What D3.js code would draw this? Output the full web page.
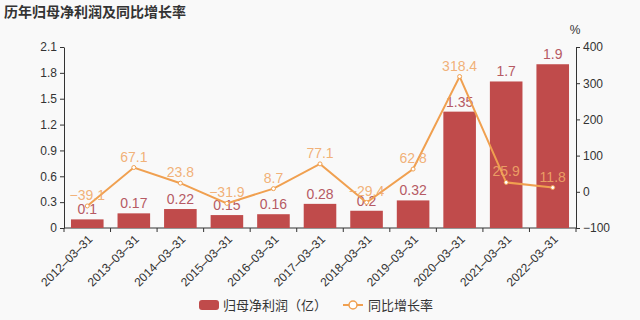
<!DOCTYPE html>
<html>
<head>
<meta charset="utf-8">
<script src="https://cdn.jsdelivr.net/npm/d3@7"></script>
<style>
body { margin: 0; background: #f9f9f9; }
svg { display: block; font-family: "Liberation Sans", "Noto Sans CJK SC", sans-serif; }
</style>
</head>
<body>
<div id="chart"></div>
<script>
let categories = ['2012-03-31','2013-03-31','2014-03-31','2015-03-31','2016-03-31','2017-03-31','2018-03-31','2019-03-31','2020-03-31','2021-03-31','2022-03-31']
let profit = [0.1, 0.17, 0.22, 0.15, 0.16, 0.28, 0.2, 0.32, 1.35, 1.7, 1.9]
let growth = [-39.1, 67.1, 23.8, -31.9, 8.7, 77.1, -29.4, 62.8, 318.4, 25.9, 11.8]
let leftTicks = [0, 0.3, 0.6, 0.9, 1.2, 1.5, 1.8, 2.1]
let rightTicks = [-100, 0, 100, 200, 300, 400]

let width = 640
let height = 320
let plotLeft = 64, plotRight = 576, plotTop = 47, plotBottom = 228

let barColor = '#c04b4b'
let lineColor = '#f0a050'
let cjk = '"Noto Sans CJK SC", sans-serif'

const svg = d3.select('#chart')
	.append('svg')
	.attr('width', width)
	.attr('height', height)

svg.append('rect').attr('width', width).attr('height', height).attr('fill', '#f9f9f9')

svg.append('text')
	.attr('x', 4)
	.attr('y', 17)
	.attr('font-size', 14)
	.attr('font-weight', 'bold')
	.attr('font-family', cjk)
	.attr('fill', '#333')
	.text('历年归母净利润及同比增长率')

let xScale = d3.scaleBand()
	.domain(categories)
	.range([plotLeft, plotRight])
	.paddingInner(0.3)
	.paddingOuter(0.15)

let xBand = d3.scaleBand().domain(categories).range([plotLeft, plotRight])

let yLeft = d3.scaleLinear().domain([0, 2.1]).range([plotBottom, plotTop])
let yRight = d3.scaleLinear().domain([-100, 400]).range([plotBottom, plotTop])

// x axis with boundary ticks
let xG = svg.append('g').attr('transform', `translate(0,${plotBottom})`)
xG.append('line').attr('x1', plotLeft).attr('x2', plotRight).attr('stroke', '#333')
xG.selectAll('.tk')
	.data(d3.range(categories.length + 1))
	.enter()
	.append('line')
	.attr('x1', i => plotLeft + i * xBand.step())
	.attr('x2', i => plotLeft + i * xBand.step())
	.attr('y1', 0)
	.attr('y2', 4)
	.attr('stroke', '#333')
xG.selectAll('.lbl')
	.data(categories)
	.enter()
	.append('text')
	.attr('transform', d => `translate(${xBand(d) + xBand.bandwidth() / 2 + 3},${9}) rotate(-45)`)
	.attr('text-anchor', 'end')
	.attr('dy', '0.35em')
	.attr('font-size', 12)
	.attr('fill', '#333')
	.text(d => d.replace(/-/g, '–'))

let yG = svg.append('g')
	.attr('transform', `translate(${plotLeft},0)`)
	.call(d3.axisLeft(yLeft).tickValues(leftTicks).tickSize(4).tickSizeOuter(0).tickFormat(d => d === 0 ? '0' : d3.format('.1f')(d)))
yG.selectAll('path, line').attr('stroke', '#333')
yG.selectAll('text').attr('fill', '#333').attr('font-size', 12).attr('font-family', null)

let y2G = svg.append('g')
	.attr('transform', `translate(${plotRight},0)`)
	.call(d3.axisRight(yRight).tickValues(rightTicks).tickSize(4).tickSizeOuter(0).tickFormat(d => d < 0 ? '−' + Math.abs(d) : d))
y2G.selectAll('path, line').attr('stroke', '#333')
y2G.selectAll('text').attr('fill', '#333').attr('font-size', 12).attr('font-family', null)

svg.append('text')
	.attr('x', 575)
	.attr('y', 34)
	.attr('text-anchor', 'middle')
	.attr('font-size', 12)
	.attr('fill', '#333')
	.text('%')

// bars
svg.selectAll('.bar')
	.data(profit)
	.enter()
	.append('rect')
	.attr('x', (d, i) => xScale(categories[i]))
	.attr('y', d => yLeft(d))
	.attr('width', xScale.bandwidth())
	.attr('height', d => plotBottom - yLeft(d))
	.attr('fill', barColor)

svg.selectAll('.barLbl')
	.data(profit)
	.enter()
	.append('text')
	.attr('x', (d, i) => xBand(categories[i]) + xBand.bandwidth() / 2)
	.attr('y', d => yLeft(d) - 5)
	.attr('text-anchor', 'middle')
	.attr('font-size', 14)
	.attr('fill', '#b65a64')
	.text(d => d)

// line
let cx = i => xBand(categories[i]) + xBand.bandwidth() / 2
let line = d3.line()
	.x((d, i) => cx(i))
	.y(d => yRight(d))

svg.append('path')
	.datum(growth)
	.attr('d', line)
	.attr('fill', 'none')
	.attr('stroke', lineColor)
	.attr('stroke-width', 2)

svg.selectAll('.pt')
	.data(growth)
	.enter()
	.append('circle')
	.attr('cx', (d, i) => cx(i))
	.attr('cy', d => yRight(d))
	.attr('r', 2)
	.attr('fill', '#fff')
	.attr('stroke', lineColor)
	.attr('stroke-width', 1)

svg.selectAll('.ptLbl')
	.data(growth)
	.enter()
	.append('text')
	.attr('x', (d, i) => cx(i))
	.attr('y', d => yRight(d) - 6)
	.attr('text-anchor', 'middle')
	.attr('font-size', 14)
	.attr('fill', '#f0a868')
	.attr('fill-opacity', 0.9)
	.text(d => d < 0 ? '−' + Math.abs(d) : d)

// legend
let lg = svg.append('g').attr('font-family', cjk)
lg.append('rect')
	.attr('x', 199).attr('y', 300).attr('width', 20).attr('height', 10).attr('rx', 3)
	.attr('fill', barColor)
lg.append('text')
	.attr('x', 223).attr('y', 309.5)
	.attr('font-size', 13).attr('fill', '#333')
	.text('归母净利润（亿）')
lg.append('line')
	.attr('x1', 343).attr('x2', 363).attr('y1', 305).attr('y2', 305)
	.attr('stroke', lineColor).attr('stroke-width', 2)
lg.append('circle')
	.attr('cx', 353).attr('cy', 305).attr('r', 4)
	.attr('fill', '#fff').attr('stroke', lineColor).attr('stroke-width', 1.5)
lg.append('text')
	.attr('x', 368).attr('y', 309.5)
	.attr('font-size', 13).attr('fill', '#333')
	.text('同比增长率')
</script>
</body>
</html>
